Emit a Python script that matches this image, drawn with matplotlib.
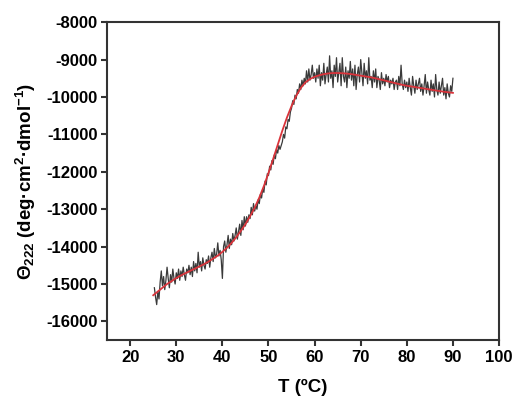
import matplotlib
matplotlib.use("Agg")
import matplotlib.pyplot as plt
import numpy as np

# measured ellipticity (noisy trace), 0.25 degC steps from 25.25 to 90
temp_raw = np.arange(25.25, 90.01, 0.25)
theta_raw = [
    -15100, -15350, -15550, -15200, -15400, -14950, -14650, -15050, -14800, -15150,
    -14900, -14550, -14850, -15100, -14750, -14950, -14600, -14850, -15000, -14700,
    -14850, -14600, -14900, -14650, -14800, -14550, -14750, -14900, -14600, -14700,
    -14500, -14750, -14550, -14800, -14400, -14650, -14450, -14700, -14150, -14550,
    -14400, -14650, -14300, -14500, -14600, -14350, -14450, -14250, -14550, -14300,
    -14150, -14400, -14050, -14300, -14200, -13900, -14250, -14100, -14350, -14850,
    -14000, -13850, -14150, -13950, -13700, -14050, -13800, -13950, -13650, -13850,
    -13700, -13500, -13800, -13600, -13400, -13700, -13300, -13550, -13200, -13450,
    -13200, -13350, -13150, -13250, -12950, -13150, -12850, -13050, -12900, -13000,
    -12750, -12850, -12600, -12700, -12450, -12550, -12250, -12350, -12050, -12100,
    -11850, -11950, -11700, -11800, -11550, -11650, -11400, -11500, -11300, -11400,
    -11300, -11200, -11000, -11100, -10800, -10850, -10600, -10650, -10400, -10300,
    -10100, -10200, -9950, -10050, -9800, -9900, -9650, -9800, -9550, -9700,
    -9500, -9650, -9300, -9600, -9250, -9550, -9400, -9150, -9500, -9350,
    -9600, -9250, -9500, -9150, -9700, -9350, -9550, -9100, -9650, -9400,
    -9200, -9600, -8900, -9500, -9300, -9750, -9150, -9450, -8950, -9600,
    -9350, -9100, -9700, -8950, -9450, -9600, -9200, -9750, -9300, -9500,
    -9050, -9550, -9250, -9700, -9150, -9800, -9400, -9200, -9600, -9000,
    -9350, -9700, -9100, -9500, -9300, -9650, -8950, -9550, -9450, -9750,
    -9300, -9600, -9250, -9750, -9450, -9550, -9800, -9350, -9650, -9500,
    -9700, -9400, -9600, -9450, -9750, -9550, -9650, -9500, -9800, -9600,
    -9550, -9800, -9450, -9700, -9150, -9650, -9800, -9550, -9750, -9600,
    -9850, -9500, -9750, -9950, -9450, -9700, -9900, -9550, -9800, -9650,
    -9500, -9850, -9650, -9950, -9700, -9400, -9900, -9600, -9800, -9950,
    -9550, -9850, -9650, -10000, -9400, -9800, -9950, -9600, -9900, -9700,
    -9500, -9950, -9750, -10050, -9650, -9900, -10000, -9700, -9850, -9500,
]

# fitted curve, 1 degC steps from 25 to 90
temp_fit = np.arange(25, 91, 1)
theta_fit = [
    -15300, -15200, -15100, -15000, -14920, -14840, -14770, -14710, -14650, -14590,
    -14530, -14470, -14400, -14320, -14240, -14140, -14030, -13900, -13750, -13580,
    -13400, -13190, -12960, -12690, -12380, -12030, -11660, -11280, -10900, -10550,
    -10240, -9970, -9760, -9610, -9520, -9460, -9420, -9390, -9370, -9360,
    -9360, -9365, -9375, -9390, -9410, -9430, -9450, -9470, -9495, -9525,
    -9555, -9585, -9615, -9645, -9675, -9700, -9720, -9740, -9760, -9780,
    -9800, -9820, -9840, -9860, -9875, -9890,
]

xticks = [20, 30, 40, 50, 60, 70, 80, 90, 100]
yticks = [-16000, -15000, -14000, -13000, -12000, -11000, -10000, -9000, -8000]

plt.rcParams['font.family'] = ['Liberation Sans', 'DejaVu Sans']
plt.rcParams['font.weight'] = 'bold'
plt.rcParams['axes.unicode_minus'] = False
plt.rcParams['mathtext.fontset'] = 'custom'
plt.rcParams['mathtext.rm'] = 'Liberation Sans:bold'
plt.rcParams['mathtext.it'] = 'Liberation Sans:bold'
plt.rcParams['mathtext.bf'] = 'Liberation Sans:bold'

fig = plt.figure(figsize=(5.15, 4.03), dpi=100)
ax = fig.add_axes([0.208, 0.156, 0.761, 0.789])

ax.plot(temp_raw, theta_raw, color='#3a3a3a', lw=0.9)
ax.plot(temp_fit, theta_fit, color='#d9333a', lw=1.3)

ax.set_xlim(15, 100)
ax.set_ylim(-16500, -8000)
ax.set_xticks(xticks)
ax.set_yticks(yticks)
ax.tick_params(direction='out', length=4, width=1.5, labelsize=12, color='#333333', pad=3)
for lbl in ax.get_xticklabels() + ax.get_yticklabels():
    lbl.set_fontweight('bold')
for sp in ax.spines.values():
    sp.set_linewidth(1.5)
    sp.set_color('#333333')

ax.set_xlabel('T (ºC)', fontsize=13.5, fontweight='bold', labelpad=10)
ax.set_ylabel('$\\mathregular{Θ_{222}}$ (deg·cm$^{\\mathregular{2}}$·dmol$^{\\mathregular{-1}}$)',
              fontsize=13.5, fontweight='bold', labelpad=6)

fig.savefig('out.png', dpi=100)
